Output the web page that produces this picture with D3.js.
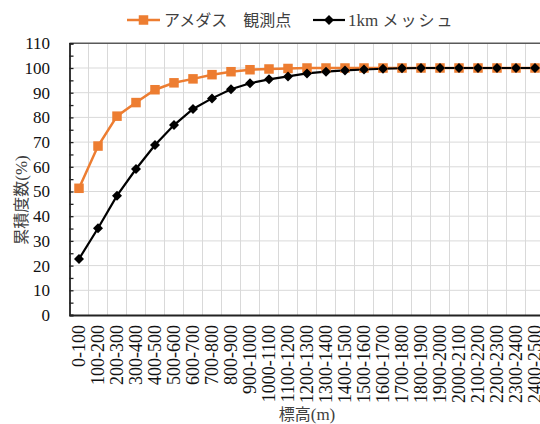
<!DOCTYPE html>
<html><head><meta charset="utf-8">
<script src="https://cdn.jsdelivr.net/npm/d3@7"></script>
<style>
body{margin:0;background:#fff}svg{display:block}
.serif{font-family:"Liberation Serif","Times New Roman",Tinos,serif !important}
.jp{font-family:"Noto Sans CJK JP","Noto Sans",sans-serif !important}
</style>
</head><body>
<svg id="c" width="540" height="424"></svg>
<script>
const categories = ["0-100","100-200","200-300","300-400","400-500","500-600","600-700","700-800","800-900","900-1000","1000-1100","1100-1200","1200-1300","1300-1400","1400-1500","1500-1600","1600-1700","1700-1800","1800-1900","1900-2000","2000-2100","2100-2200","2200-2300","2300-2400","2400-2500"];
const amedas = [51.3,68.4,80.5,86.0,91.2,94.0,95.6,97.3,98.5,99.3,99.6,99.8,100,100,100,100,100,100,100,100,100,100,100,100,100];
const mesh = [22.7,35.1,48.3,59.1,68.8,76.9,83.4,87.7,91.4,93.8,95.4,96.6,97.8,98.5,99.0,99.4,99.7,99.9,100,100,100,100,100,100,100];
const yTicks = [0,10,20,30,40,50,60,70,80,90,100,110];
const seriesNames = ["アメダス　観測点","1km メッシュ"];

const svg = d3.select("#c");
const L = 69.5, R = 544.5, T = 43.3, B = 315;
const x = d3.scaleBand().domain(categories).range([L, R]);
const y = d3.scaleLinear().domain([0,110]).range([B, T]);
const cx = d => x(d) + x.bandwidth()/2;

svg.append("g").selectAll("line").data(yTicks.filter(v=>v>0 && v<110)).join("line")
  .attr("x1", L).attr("x2", 540).attr("y1", d=>y(d)).attr("y2", d=>y(d))
  .attr("stroke", "#d9d9d9").attr("stroke-width", 1);
svg.append("g").selectAll("line").data(categories.slice(1)).join("line")
  .attr("x1", d=>x(d)).attr("x2", d=>x(d)).attr("y1", T).attr("y2", B)
  .attr("stroke", "#d9d9d9").attr("stroke-width", 1);
svg.append("line").attr("x1", L).attr("x2", 540).attr("y1", y(110)).attr("y2", y(110))
  .attr("stroke", "#595959").attr("stroke-width", 1.5);

const yAxis = d3.axisRight(y).tickValues(d3.range(0,111,5)).tickSize(4).tickFormat("");
const ya = svg.append("g").attr("transform", `translate(${L},0)`).call(yAxis);
ya.select(".domain").attr("stroke", "#222").attr("stroke-width", 1.8);
ya.selectAll(".tick line").attr("stroke", "#222").attr("stroke-width", 1.3);
svg.append("g").selectAll("text").data(yTicks).join("text").attr("class","serif")
  .attr("x", 50).attr("y", d=>y(d)).attr("dy", "0.35em").attr("text-anchor", "end")
  .attr("font-size", 17).attr("fill", "#111").text(d=>d);

const xa = svg.append("g").attr("transform", `translate(0,${B})`)
  .call(d3.axisBottom(x).tickSize(0));
xa.attr("font-family", null);
xa.select(".domain").attr("stroke", "#222").attr("stroke-width", 2.2);
xa.selectAll(".tick text").attr("class","serif")
  .attr("transform", "rotate(-90)").attr("text-anchor", "end")
  .attr("x", -10).attr("y", 0).attr("dy", "0.35em")
  .attr("font-size", 18).attr("fill", "#111");

const line = d3.line().x((d,i)=>cx(categories[i])).y(d=>y(d));
svg.append("path").datum(amedas).attr("d", line).attr("fill","none")
  .attr("stroke", "#ED7D31").attr("stroke-width", 2.5);
svg.append("path").datum(mesh).attr("d", line).attr("fill","none")
  .attr("stroke", "#000").attr("stroke-width", 2.2);
const sq = 9.5, dm = 5;
svg.append("g").selectAll("rect").data(amedas).join("rect")
  .attr("x", (d,i)=>cx(categories[i])-sq/2).attr("y", d=>y(d)-sq/2)
  .attr("width", sq).attr("height", sq).attr("fill", "#ED7D31");
svg.append("g").selectAll("path").data(mesh).join("path")
  .attr("d", (d,i)=>{const px=cx(categories[i]), py=y(d); return `M${px},${py-dm}L${px+dm},${py}L${px},${py+dm}L${px-dm},${py}Z`;})
  .attr("fill", "#000");

const lg = svg.append("g");
lg.append("line").attr("x1",127).attr("x2",160).attr("y1",20).attr("y2",20).attr("stroke","#ED7D31").attr("stroke-width",2.5);
lg.append("rect").attr("x",143.5-sq/2).attr("y",20-sq/2).attr("width",sq).attr("height",sq).attr("fill","#ED7D31");
lg.append("text").attr("class","jp").attr("x",164).attr("y",20).attr("dy","0.35em").attr("font-size",16)
  .attr("fill","#404040").text(seriesNames[0]);
lg.append("line").attr("x1",313).attr("x2",345).attr("y1",20).attr("y2",20).attr("stroke","#000").attr("stroke-width",2.2);
lg.append("path").attr("d",`M329,${20-dm}L${329+dm},20L329,${20+dm}L${329-dm},20Z`).attr("fill","#000");
const t2 = lg.append("text").attr("x",348).attr("y",20).attr("dy","0.35em").attr("font-size",16).attr("fill","#404040");
t2.append("tspan").attr("class","serif").attr("font-size",17).text("1km ");
t2.append("tspan").attr("class","jp").attr("letter-spacing","2").text("メッシュ");

const yt = svg.append("text").attr("transform","translate(21,200) rotate(-90)").attr("text-anchor","middle")
  .attr("dy","0.35em").attr("font-size",16).attr("fill","#404040");
yt.append("tspan").attr("class","jp").text("累積度数");
yt.append("tspan").attr("class","serif").attr("font-size",17).text("(%)");

const xt = svg.append("text").attr("x",307).attr("y",414).attr("text-anchor","middle")
  .attr("dy","0.35em").attr("font-size",16).attr("fill","#404040");
xt.append("tspan").attr("class","jp").text("標高");
xt.append("tspan").attr("class","serif").attr("font-size",17).text("(m)");
</script>
</body></html>
